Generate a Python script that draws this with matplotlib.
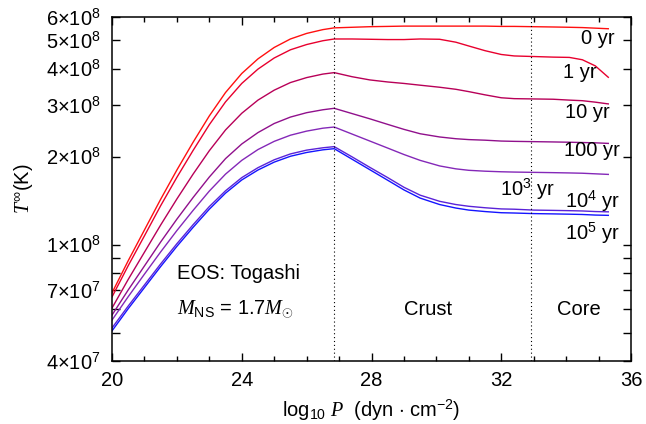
import numpy as np
import matplotlib
matplotlib.use('Agg')
import matplotlib.pyplot as plt
from matplotlib.ticker import FixedLocator, MultipleLocator

plt.rcParams['font.family'] = ['Liberation Sans', 'DejaVu Sans']
plt.rcParams['mathtext.fontset'] = 'custom'
plt.rcParams['mathtext.rm'] = 'Liberation Sans'
plt.rcParams['mathtext.sf'] = 'Liberation Sans'
plt.rcParams['mathtext.it'] = 'Liberation Serif:italic'

# log10 P grid (dyn cm^-2)
log_p = [20.0, 20.5, 21.0, 21.5, 22.0, 22.5, 23.0, 23.5, 24.0, 24.5, 25.0, 25.5,
         26.0, 26.5, 26.85, 27.4, 27.95, 28.5, 29.0, 29.5, 30.1, 30.6, 31.0,
         31.5, 32.0, 32.4, 33.0, 33.6, 34.1, 34.5, 34.9, 35.3]

# log10 T_inf (K), one list per age
log_t_0yr = [7.835, 7.945, 8.050, 8.155, 8.255, 8.350, 8.440, 8.520, 8.585, 8.635,
             8.674, 8.703, 8.722, 8.735, 8.741, 8.743, 8.745, 8.746, 8.747, 8.747,
             8.747, 8.747, 8.747, 8.747, 8.746, 8.746, 8.745, 8.744, 8.743, 8.742,
             8.740, 8.738]
log_t_1yr = [7.821, 7.928, 8.030, 8.133, 8.230, 8.322, 8.410, 8.488, 8.551, 8.600,
             8.638, 8.666, 8.684, 8.697, 8.703, 8.703, 8.702, 8.701, 8.701, 8.703,
             8.702, 8.692, 8.679, 8.663, 8.650, 8.645, 8.643, 8.641, 8.640, 8.632,
             8.611, 8.572]
log_t_10yr = [7.783, 7.881, 7.974, 8.067, 8.156, 8.241, 8.321, 8.392, 8.449, 8.494,
              8.528, 8.554, 8.571, 8.583, 8.588, 8.574, 8.563, 8.556, 8.551, 8.545,
              8.538, 8.531, 8.523, 8.512, 8.502, 8.499, 8.498, 8.497, 8.494, 8.492,
              8.487, 8.481]
log_t_100yr = [7.759, 7.845, 7.927, 8.009, 8.087, 8.161, 8.231, 8.294, 8.344, 8.383,
               8.414, 8.436, 8.451, 8.461, 8.466, 8.448, 8.430, 8.411, 8.394, 8.379,
               8.368, 8.362, 8.359, 8.357, 8.354, 8.353, 8.352, 8.351, 8.350, 8.349,
               8.348, 8.346]
log_t_1e3yr = [7.742, 7.822, 7.899, 7.975, 8.048, 8.117, 8.183, 8.241, 8.288, 8.325,
               8.353, 8.374, 8.388, 8.398, 8.402, 8.378, 8.354, 8.330, 8.308, 8.288,
               8.269, 8.259, 8.254, 8.251, 8.249, 8.248, 8.247, 8.246, 8.245, 8.244,
               8.242, 8.240]
log_t_1e4yr = [7.715, 7.790, 7.862, 7.934, 8.003, 8.068, 8.130, 8.184, 8.229, 8.263,
               8.290, 8.310, 8.323, 8.331, 8.335, 8.300, 8.264, 8.229, 8.196, 8.169,
               8.148, 8.137, 8.131, 8.126, 8.122, 8.121, 8.118, 8.117, 8.116, 8.115,
               8.113, 8.112]
log_t_1e5yr = [7.705, 7.781, 7.853, 7.925, 7.994, 8.059, 8.121, 8.176, 8.221, 8.255,
               8.282, 8.302, 8.315, 8.324, 8.328, 8.292, 8.256, 8.220, 8.187, 8.159,
               8.137, 8.125, 8.118, 8.113, 8.109, 8.108, 8.106, 8.105, 8.104, 8.103,
               8.101, 8.100]

curves = [log_t_0yr, log_t_1yr, log_t_10yr, log_t_100yr,
          log_t_1e3yr, log_t_1e4yr, log_t_1e5yr]
colors = ['#ff1010', '#e8002e', '#b80058', '#90108c', '#8428b8', '#5a22d8', '#1414ff']

age_labels = ['0 yr', '1 yr', '10 yr', '100 yr',
              r'10$^3$ yr', r'10$^4$ yr', r'10$^5$ yr']
age_label_x = [35.51, 34.95, 35.35, 35.66, 33.66, 35.66, 35.66]
age_label_y = [5.07e8, 3.88e8, 2.82e8, 2.09e8, 1.55e8, 1.41e8, 1.096e8]

boundaries = [26.85, 32.93]

y_ticks = [4e7, 5e7, 6e7, 7e7, 8e7, 9e7, 1e8, 2e8, 3e8, 4e8, 5e8, 6e8]
y_tick_labels = [r'4$\times$10$^7$', '', '', r'7$\times$10$^7$', '', '',
                 r'1$\times$10$^8$', r'2$\times$10$^8$', r'3$\times$10$^8$',
                 r'4$\times$10$^8$', r'5$\times$10$^8$', r'6$\times$10$^8$']

fontsize = 14.5

fig = plt.figure(figsize=(6.46, 4.24), dpi=100)
ax = fig.add_axes([112 / 646, 1 - 361 / 424, 519 / 646, 344 / 424])

for vals, c in zip(curves, colors):
    ax.plot(log_p, 10 ** np.array(vals), color=c, linewidth=1.0)

for b in boundaries:
    ax.axvline(b, color='black', linestyle=(0, (1, 2.5)), linewidth=0.8)

ax.set_yscale('log')
ax.set_xlim(20, 36)
ax.set_ylim(4e7, 6e8)

ax.xaxis.set_major_locator(MultipleLocator(4))
ax.xaxis.set_minor_locator(MultipleLocator(1))
ax.yaxis.set_major_locator(FixedLocator(y_ticks))
ax.yaxis.set_minor_locator(FixedLocator([]))
ax.set_yticklabels(y_tick_labels)

ax.tick_params(axis='both', which='both', direction='in', top=True, right=True,
               labelsize=fontsize, width=1.0)
ax.tick_params(axis='x', which='major', length=6, pad=7)
ax.tick_params(axis='x', which='minor', length=3.5)
ax.tick_params(axis='y', which='major', length=6, pad=8)
for s in ax.spines.values():
    s.set_linewidth(1.1)

for lab, x, y in zip(age_labels, age_label_x, age_label_y):
    ax.text(x, y, lab, fontsize=fontsize, ha='right', va='center')

ax.text(22.0, 7.96e7, 'EOS: Togashi', fontsize=fontsize, ha='left', va='center')
ax.text(22.0, 6.07e7, r'$M_{\rm NS}$ = 1.7$M_{\odot}$', fontsize=fontsize,
        ha='left', va='center')
ax.text(29.74, 5.98e7, 'Crust', fontsize=fontsize, ha='center', va='center')
ax.text(34.38, 5.98e7, 'Core', fontsize=fontsize, ha='center', va='center')

ax.set_xlabel(r'$\log_{10}\,P$  (dyn $\cdot$ cm$^{-2}$)', fontsize=fontsize, labelpad=6)
ax.set_ylabel(r'$T^{\infty}$(K)', fontsize=fontsize, labelpad=8)

plt.savefig('out.png', dpi=100)
